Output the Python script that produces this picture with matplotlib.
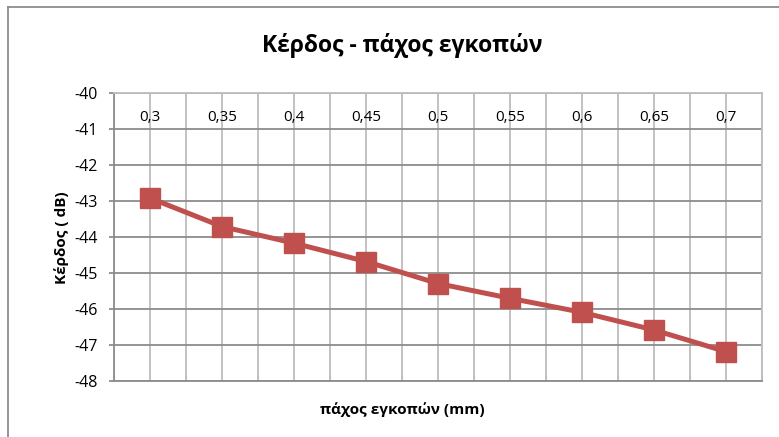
import matplotlib
matplotlib.use('Agg')
import matplotlib.pyplot as plt
from matplotlib.lines import Line2D

plt.rcParams['font.family'] = ['Open Sans', 'DejaVu Sans']

# data
thickness = ['0,3', '0,35', '0,4', '0,45', '0,5', '0,55', '0,6', '0,65', '0,7']
gain_db = [-42.93, -43.72, -44.18, -44.69, -45.30, -45.71, -46.10, -46.59, -47.19]
y_ticks = [-40, -41, -42, -43, -44, -45, -46, -47, -48]

title = 'Κέρδος - πάχος εγκοπών'
x_label = 'πάχος εγκοπών (mm)'
y_label = 'Κέρδος ( dB)'

W, H = 779, 437
fig = plt.figure(figsize=(W / 100, H / 100), dpi=100)

# plot area in pixels (left, top, right, bottom)
pl, pt, pr, pb = 114.3, 92.7, 761.7, 380.7
ax = fig.add_axes([pl / W, 1 - pb / H, (pr - pl) / W, (pb - pt) / H])

x = list(range(len(thickness)))
ax.set_xlim(-0.5, len(thickness) - 0.5)
ax.set_ylim(-48, -40)

# grid: horizontal darker, vertical lighter at half-category steps
for v in y_ticks:
    ax.axhline(v, color='#8c8c8c', lw=1.3, zorder=1)
for i in range(2 * len(thickness) + 1):
    ax.axvline(-0.5 + i * 0.5, color='#bdbdbd', lw=1.3, zorder=0.5)

ax.plot(x, gain_db, color='#C0504D', lw=3.6, marker='s', markersize=14,
        markerfacecolor='#C0504D', markeredgecolor='#C0504D', zorder=3)

for s in ['top', 'right']:
    ax.spines[s].set_color('#bdbdbd')
    ax.spines[s].set_linewidth(1.3)
ax.spines['left'].set_color('#8c8c8c')
ax.spines['bottom'].set_color('#8c8c8c')
ax.spines['left'].set_linewidth(1.3)
ax.spines['bottom'].set_linewidth(1.3)

ax.set_yticks(y_ticks)
ax.set_yticklabels([str(v) for v in y_ticks], fontsize=11.5)
ax.tick_params(axis='y', length=3.6, width=1.3, color='#8c8c8c', pad=8)
ax.set_xticks([-0.5 + i for i in range(len(thickness) + 1)])
ax.set_xticklabels([])
ax.tick_params(axis='x', length=4, color='#bdbdbd', direction='in')

# category labels sit just under the top (the category axis crosses at -40)
for xi, lab in zip(x, thickness):
    ax.text(xi, -40.69, lab, ha='center', va='center', fontsize=11, zorder=4)

fig.text(402 / W, 1 - 45 / H, title, ha='center', va='center',
         fontsize=16.5, fontweight='bold')
fig.text(402 / W, 1 - 410 / H, x_label, ha='center', va='center',
         fontsize=11, fontweight='bold')
fig.text(62 / W, 1 - 238 / H, y_label, ha='center', va='center', rotation=90,
         fontsize=11, fontweight='bold')

# outer chart border (cropped on right and bottom)
fig.add_artist(Line2D([8 / W, 8 / W], [0, 1 - 7 / H], color='#8c8c8c', lw=1.3,
                      transform=fig.transFigure))
fig.add_artist(Line2D([8 / W, 1], [1 - 7 / H, 1 - 7 / H], color='#8c8c8c', lw=1.3,
                      transform=fig.transFigure))

fig.savefig('out.png', dpi=100)
plt.close()
